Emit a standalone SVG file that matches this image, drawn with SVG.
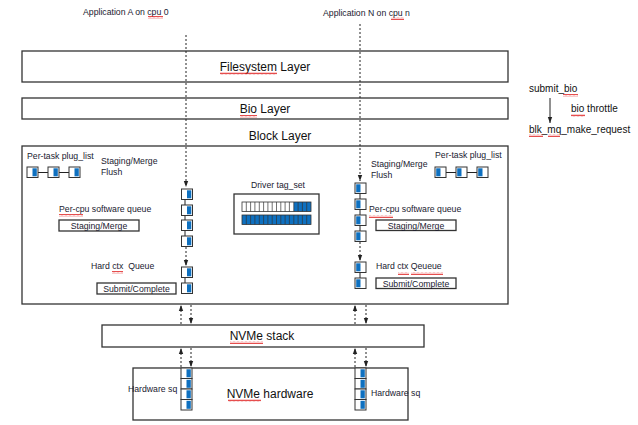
<svg xmlns="http://www.w3.org/2000/svg" width="638" height="425" viewBox="0 0 638 425">
<style>
.box{fill:#fff;stroke:#333;stroke-width:1.3}
.lbl{font-family:"Liberation Sans",Arial,sans-serif;fill:#111}
.big{font-size:12px;text-anchor:middle}
.sm{font-size:8.7px;fill:#1a1a30}
.md{font-size:10px}
.mid{text-anchor:middle}
.dot{stroke:#222;stroke-width:1;stroke-dasharray:2 2;fill:none}
.ln{stroke:#222;stroke-width:1;fill:none}
.cell{fill:#fff;stroke:#333;stroke-width:1}
.blue{fill:#0e70c0}
.tc{stroke:#333;stroke-width:0.7}
.sq{fill:url(#wave)}
</style>
<defs>
<marker id="ah" viewBox="0 0 6 6" refX="6" refY="3" markerWidth="6" markerHeight="6" orient="auto" markerUnits="userSpaceOnUse">
<path d="M0,0.8 L6,3 L0,5.2 Z" fill="#222"/>
</marker>
<pattern id="wave" width="4" height="3" patternUnits="userSpaceOnUse">
<path d="M0,2.3 L1,0.7 L2,2.3 M2,2.3 L3,0.7 L4,2.3" stroke="#e02020" stroke-width="0.8" fill="none"/>
</pattern>
<g id="cellR">
<rect class="cell" x="0" y="0" width="11" height="10.5"/>
<rect class="blue" x="5.5" y="1.3" width="4.3" height="8"/>
</g>
<g id="cellL">
<rect class="cell" x="0" y="0" width="11" height="10.5"/>
<rect class="blue" x="1.2" y="1.3" width="4.3" height="8"/>
</g>
</defs>
<rect width="638" height="425" fill="#fff"/>

<g id="app-a"><text class="lbl sm" x="83" y="15">Application A on cpu 0</text></g>
<g id="app-n"><text class="lbl sm" x="323" y="16">Application N on cpu n</text></g>

<g id="filesystem-layer">
<rect class="box" x="22" y="51" width="486" height="31"/>
<text class="lbl big" x="265" y="71">Filesystem Layer</text>
</g>
<g id="bio-layer">
<rect class="box" x="22" y="98" width="486" height="21"/>
<text class="lbl big" x="265" y="113">Bio Layer</text>
</g>
<g id="block-layer">
<text class="lbl big" x="280" y="140">Block Layer</text>
<rect class="box" x="22" y="146" width="486" height="158"/>
</g>

<g id="plug-left">
<text class="lbl sm" x="27" y="159">Per-task plug_list</text>
<line class="ln" x1="38" y1="172.5" x2="48" y2="172.5"/>
<line class="ln" x1="59" y1="172.5" x2="69" y2="172.5"/>
<use href="#cellR" x="27" y="167"/>
<use href="#cellR" x="48" y="167"/>
<use href="#cellR" x="69" y="167"/>
<text class="lbl sm" x="101" y="164">Staging/Merge</text>
<text class="lbl sm" x="101" y="175">Flush</text>
</g>
<g id="swq-left">
<text class="lbl sm" x="59" y="212">Per-cpu software queue</text>
<rect class="box" x="59" y="220" width="80" height="11" stroke-width="1"/>
<text class="lbl sm mid" x="99" y="229">Staging/Merge</text>
</g>
<g id="hctx-left">
<text class="lbl sm" x="91" y="269" xml:space="preserve">Hard ctx  Queue</text>
<rect class="box" x="97" y="283" width="79" height="11" stroke-width="1"/>
<text class="lbl sm mid" x="136.5" y="292">Submit/Complete</text>
</g>
<g id="queue-left">
<line class="ln" x1="185" y1="199" x2="185" y2="205"/>
<line class="ln" x1="185" y1="215" x2="185" y2="220"/>
<line class="ln" x1="185" y1="230" x2="185" y2="236"/>
<line class="ln" x1="185" y1="277" x2="185" y2="283"/>
<use href="#cellR" x="181.5" y="189"/>
<use href="#cellR" x="181.5" y="205"/>
<use href="#cellR" x="181.5" y="220"/>
<use href="#cellR" x="181.5" y="236"/>
<use href="#cellR" x="181.5" y="267"/>
<use href="#cellR" x="181.5" y="283"/>
</g>

<g id="tagset">
<text class="lbl sm mid" x="278" y="188">Driver tag_set</text>
<rect class="box" x="234" y="194" width="85" height="40"/>
<rect class="blue" x="293.8" y="202" width="17.2" height="9.5"/>
<rect class="blue" x="242" y="215" width="69" height="9.5"/>
<rect x="242" y="202" width="69" height="9.5" fill="none" stroke="#333" stroke-width="0.8"/>
<rect x="242" y="215" width="69" height="9.5" fill="none" stroke="#333" stroke-width="0.8"/>
<path class="tc" d="M246.3,202v9.5M250.6,202v9.5M254.9,202v9.5M259.3,202v9.5M263.6,202v9.5M267.9,202v9.5M272.2,202v9.5M276.5,202v9.5M280.8,202v9.5M285.1,202v9.5M289.4,202v9.5M293.8,202v9.5M298.1,202v9.5M302.4,202v9.5M306.7,202v9.5"/>
<path class="tc" d="M246.3,215v9.5M250.6,215v9.5M254.9,215v9.5M259.3,215v9.5M263.6,215v9.5M267.9,215v9.5M272.2,215v9.5M276.5,215v9.5M280.8,215v9.5M285.1,215v9.5M289.4,215v9.5M293.8,215v9.5M298.1,215v9.5M302.4,215v9.5M306.7,215v9.5"/>
</g>

<g id="plug-right">
<text class="lbl sm" x="371" y="167">Staging/Merge</text>
<text class="lbl sm" x="371" y="178">Flush</text>
<text class="lbl sm" x="435" y="158">Per-task plug_list</text>
<line class="ln" x1="446" y1="172.5" x2="456" y2="172.5"/>
<line class="ln" x1="467" y1="172.5" x2="477" y2="172.5"/>
<use href="#cellL" x="435" y="167"/>
<use href="#cellL" x="456" y="167"/>
<use href="#cellL" x="477" y="167"/>
</g>
<g id="swq-right">
<text class="lbl sm" x="369" y="212">Per-cpu software queue</text>
<rect class="box" x="376" y="220" width="80" height="10.5" stroke-width="1"/>
<text class="lbl sm mid" x="416" y="228.5">Staging/Merge</text>
</g>
<g id="hctx-right">
<text class="lbl sm" x="376" y="269">Hard ctx Qeueue</text>
<rect class="box" x="376" y="278" width="80" height="10.5" stroke-width="1"/>
<text class="lbl sm mid" x="416" y="286.5">Submit/Complete</text>
</g>
<g id="queue-right">
<line class="ln" x1="360" y1="193" x2="360" y2="199"/>
<line class="ln" x1="360" y1="209" x2="360" y2="215"/>
<line class="ln" x1="360" y1="225" x2="360" y2="231"/>
<line class="ln" x1="360" y1="272" x2="360" y2="278"/>
<use href="#cellL" x="355" y="183"/>
<use href="#cellL" x="355" y="199"/>
<use href="#cellL" x="355" y="215"/>
<use href="#cellL" x="355" y="231"/>
<use href="#cellL" x="355" y="262"/>
<use href="#cellL" x="355" y="278"/>
</g>

<g id="nvme-stack">
<rect class="box" x="102" y="325" width="322" height="22"/>
<text class="lbl big" x="262" y="340">NVMe stack</text>
</g>
<g id="nvme-hardware">
<rect class="box" x="133" y="368" width="275" height="52"/>
<text class="lbl big" x="270" y="398">NVMe hardware</text>
</g>
<g id="hwsq-left">
<use href="#cellR" x="181" y="368"/>
<use href="#cellR" x="181" y="378.5"/>
<use href="#cellR" x="181" y="389"/>
<use href="#cellR" x="181" y="399.5"/>
<text class="lbl sm" x="128" y="392">Hardware sq</text>
</g>
<g id="hwsq-right">
<use href="#cellR" x="355" y="368"/>
<use href="#cellR" x="355" y="378.5"/>
<use href="#cellR" x="355" y="389"/>
<use href="#cellR" x="355" y="399.5"/>
<text class="lbl sm" x="371" y="396">Hardware sq</text>
</g>

<g id="connectors">
<line class="dot" x1="186" y1="35" x2="186" y2="187" marker-end="url(#ah)"/>
<line class="dot" x1="186" y1="247" x2="186" y2="266" marker-end="url(#ah)"/>
<line class="dot" x1="360" y1="24" x2="360" y2="181" marker-end="url(#ah)"/>
<line class="dot" x1="360" y1="242" x2="360" y2="261" marker-end="url(#ah)"/>
<line class="dot" x1="181" y1="324" x2="181" y2="305" marker-end="url(#ah)"/>
<line class="dot" x1="191" y1="305" x2="191" y2="324" marker-end="url(#ah)"/>
<line class="dot" x1="181" y1="367" x2="181" y2="348" marker-end="url(#ah)"/>
<line class="dot" x1="191" y1="348" x2="191" y2="367" marker-end="url(#ah)"/>
<line class="dot" x1="355" y1="324" x2="355" y2="305" marker-end="url(#ah)"/>
<line class="dot" x1="366" y1="305" x2="366" y2="324" marker-end="url(#ah)"/>
<line class="dot" x1="355" y1="367" x2="355" y2="348" marker-end="url(#ah)"/>
<line class="dot" x1="366" y1="348" x2="366" y2="367" marker-end="url(#ah)"/>
<line class="ln" x1="550" y1="98" x2="550" y2="123" marker-end="url(#ah)"/>
</g>

<g id="legend">
<text class="lbl md" x="529" y="92">submit_bio</text>
<text class="lbl md" x="571" y="112">bio throttle</text>
<text class="lbl md" x="529" y="133">blk_mq_make_request</text>
</g>

<g id="spellcheck">
<rect class="sq" x="148" y="16" width="15" height="3"/>
<rect class="sq" x="391" y="17" width="13" height="3"/>
<rect class="sq" x="220" y="72" width="57" height="3"/>
<rect class="sq" x="240" y="115" width="17" height="3"/>
<rect class="sq" x="59" y="214" width="24" height="3"/>
<rect class="sq" x="112" y="271" width="11" height="3"/>
<rect class="sq" x="369" y="215" width="24" height="3"/>
<rect class="sq" x="398" y="272" width="11" height="3"/>
<rect class="sq" x="411" y="272" width="32" height="3"/>
<rect class="sq" x="230" y="341" width="33" height="3"/>
<rect class="sq" x="228" y="399" width="33" height="3"/>
<rect class="sq" x="563" y="94" width="15" height="3"/>
<rect class="sq" x="571" y="114" width="14" height="3"/>
<rect class="sq" x="529" y="134" width="14" height="3"/>
<rect class="sq" x="548" y="134" width="12" height="3"/>
</g>
</svg>
